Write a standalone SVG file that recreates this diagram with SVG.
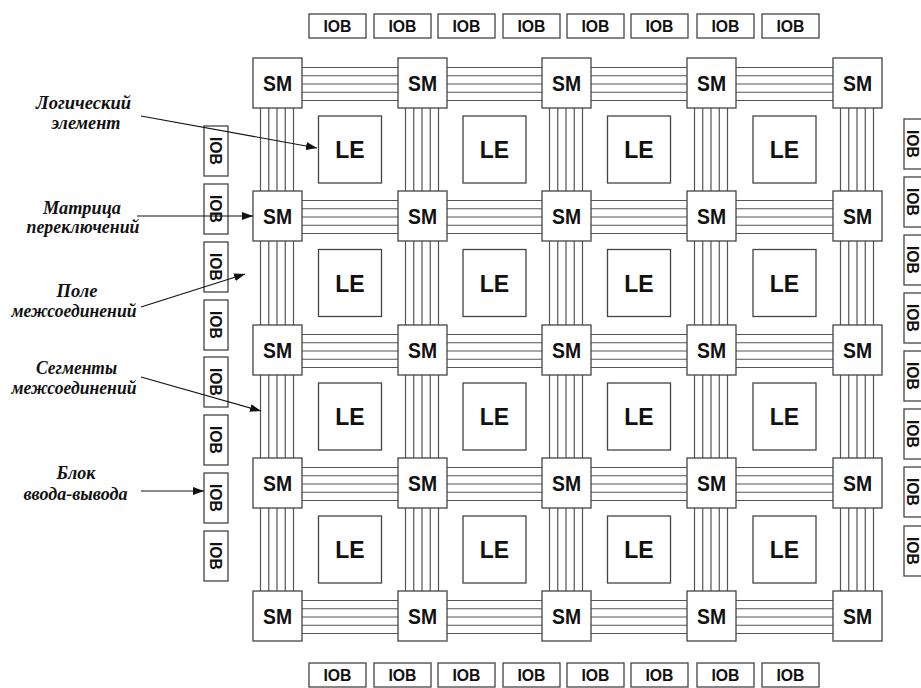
<svg xmlns="http://www.w3.org/2000/svg" width="921" height="688" viewBox="0 0 921 688">
<defs>
<style>
.bx{fill:#fff;stroke:#444;stroke-width:1.3}
.w{stroke:#555;stroke-width:1.2;fill:none}
.sm{font-family:"Liberation Sans",Arial,sans-serif;font-weight:bold;font-size:22px;text-anchor:middle;fill:#111}
.le{font-family:"Liberation Sans",Arial,sans-serif;font-weight:bold;font-size:23px;text-anchor:middle;fill:#111}
.io{font-family:"Liberation Sans",Arial,sans-serif;font-weight:bold;font-size:16px;text-anchor:middle;fill:#111}
.lb{font-family:"Liberation Serif","Times New Roman",serif;font-weight:bold;font-style:italic;font-size:19px;text-anchor:middle;fill:#111}
.ar{stroke:#111;stroke-width:1.1;fill:none;marker-end:url(#ah)}
</style>
<marker id="ah" markerUnits="userSpaceOnUse" markerWidth="11" markerHeight="8" refX="11" refY="4" orient="auto">
<path d="M0,0 L11,4 L0,8 z" fill="#111"/>
</marker>
</defs>
<rect width="921" height="688" fill="#fff"/>

<g id="connectors">
<path class="w" d="M302,67.5H833M302,75.75H833M302,84H833M302,92.25H833M302,100.5H833
M302,200.5H833M302,208.75H833M302,217H833M302,225.25H833M302,233.5H833
M302,334.5H833M302,342.75H833M302,351H833M302,359.25H833M302,367.5H833
M302,467.5H833M302,475.75H833M302,484H833M302,492.25H833M302,500.5H833
M302,600.5H833M302,608.75H833M302,617H833M302,625.25H833M302,633.5H833"/>
<path class="w" d="M260.5,108V591M268.75,108V591M277,108V591M285.25,108V591M293.5,108V591
M405.5,108V591M413.75,108V591M422,108V591M430.25,108V591M438.5,108V591
M549.5,108V591M557.75,108V591M566,108V591M574.25,108V591M582.5,108V591
M694.5,108V591M702.75,108V591M711,108V591M719.25,108V591M727.5,108V591
M840.5,108V591M848.75,108V591M857,108V591M865.25,108V591M873.5,108V591"/>
</g>

<g id="sm-nodes">
<g id="sm-1-1"><rect class="bx" x="253" y="58" width="49" height="50"/><text class="sm" x="277.5" y="91" textLength="29" lengthAdjust="spacingAndGlyphs">SM</text></g>
<g id="sm-1-2"><rect class="bx" x="398" y="58" width="49" height="50"/><text class="sm" x="422.5" y="91" textLength="29" lengthAdjust="spacingAndGlyphs">SM</text></g>
<g id="sm-1-3"><rect class="bx" x="542" y="58" width="49" height="50"/><text class="sm" x="566.5" y="91" textLength="29" lengthAdjust="spacingAndGlyphs">SM</text></g>
<g id="sm-1-4"><rect class="bx" x="687" y="58" width="49" height="50"/><text class="sm" x="711.5" y="91" textLength="29" lengthAdjust="spacingAndGlyphs">SM</text></g>
<g id="sm-1-5"><rect class="bx" x="833" y="58" width="49" height="50"/><text class="sm" x="857.5" y="91" textLength="29" lengthAdjust="spacingAndGlyphs">SM</text></g>

<g id="sm-2-1"><rect class="bx" x="253" y="191" width="49" height="50"/><text class="sm" x="277.5" y="224" textLength="29" lengthAdjust="spacingAndGlyphs">SM</text></g>
<g id="sm-2-2"><rect class="bx" x="398" y="191" width="49" height="50"/><text class="sm" x="422.5" y="224" textLength="29" lengthAdjust="spacingAndGlyphs">SM</text></g>
<g id="sm-2-3"><rect class="bx" x="542" y="191" width="49" height="50"/><text class="sm" x="566.5" y="224" textLength="29" lengthAdjust="spacingAndGlyphs">SM</text></g>
<g id="sm-2-4"><rect class="bx" x="687" y="191" width="49" height="50"/><text class="sm" x="711.5" y="224" textLength="29" lengthAdjust="spacingAndGlyphs">SM</text></g>
<g id="sm-2-5"><rect class="bx" x="833" y="191" width="49" height="50"/><text class="sm" x="857.5" y="224" textLength="29" lengthAdjust="spacingAndGlyphs">SM</text></g>

<g id="sm-3-1"><rect class="bx" x="253" y="325" width="49" height="50"/><text class="sm" x="277.5" y="358" textLength="29" lengthAdjust="spacingAndGlyphs">SM</text></g>
<g id="sm-3-2"><rect class="bx" x="398" y="325" width="49" height="50"/><text class="sm" x="422.5" y="358" textLength="29" lengthAdjust="spacingAndGlyphs">SM</text></g>
<g id="sm-3-3"><rect class="bx" x="542" y="325" width="49" height="50"/><text class="sm" x="566.5" y="358" textLength="29" lengthAdjust="spacingAndGlyphs">SM</text></g>
<g id="sm-3-4"><rect class="bx" x="687" y="325" width="49" height="50"/><text class="sm" x="711.5" y="358" textLength="29" lengthAdjust="spacingAndGlyphs">SM</text></g>
<g id="sm-3-5"><rect class="bx" x="833" y="325" width="49" height="50"/><text class="sm" x="857.5" y="358" textLength="29" lengthAdjust="spacingAndGlyphs">SM</text></g>

<g id="sm-4-1"><rect class="bx" x="253" y="458" width="49" height="50"/><text class="sm" x="277.5" y="491" textLength="29" lengthAdjust="spacingAndGlyphs">SM</text></g>
<g id="sm-4-2"><rect class="bx" x="398" y="458" width="49" height="50"/><text class="sm" x="422.5" y="491" textLength="29" lengthAdjust="spacingAndGlyphs">SM</text></g>
<g id="sm-4-3"><rect class="bx" x="542" y="458" width="49" height="50"/><text class="sm" x="566.5" y="491" textLength="29" lengthAdjust="spacingAndGlyphs">SM</text></g>
<g id="sm-4-4"><rect class="bx" x="687" y="458" width="49" height="50"/><text class="sm" x="711.5" y="491" textLength="29" lengthAdjust="spacingAndGlyphs">SM</text></g>
<g id="sm-4-5"><rect class="bx" x="833" y="458" width="49" height="50"/><text class="sm" x="857.5" y="491" textLength="29" lengthAdjust="spacingAndGlyphs">SM</text></g>

<g id="sm-5-1"><rect class="bx" x="253" y="591" width="49" height="50"/><text class="sm" x="277.5" y="624" textLength="29" lengthAdjust="spacingAndGlyphs">SM</text></g>
<g id="sm-5-2"><rect class="bx" x="398" y="591" width="49" height="50"/><text class="sm" x="422.5" y="624" textLength="29" lengthAdjust="spacingAndGlyphs">SM</text></g>
<g id="sm-5-3"><rect class="bx" x="542" y="591" width="49" height="50"/><text class="sm" x="566.5" y="624" textLength="29" lengthAdjust="spacingAndGlyphs">SM</text></g>
<g id="sm-5-4"><rect class="bx" x="687" y="591" width="49" height="50"/><text class="sm" x="711.5" y="624" textLength="29" lengthAdjust="spacingAndGlyphs">SM</text></g>
<g id="sm-5-5"><rect class="bx" x="833" y="591" width="49" height="50"/><text class="sm" x="857.5" y="624" textLength="29" lengthAdjust="spacingAndGlyphs">SM</text></g>
</g>

<g id="le-nodes">
<g id="le-1-1"><rect class="bx" x="318.5" y="116" width="63" height="67"/><text class="le" x="350" y="158">LE</text></g>
<g id="le-1-2"><rect class="bx" x="463" y="116" width="63" height="67"/><text class="le" x="494.5" y="158">LE</text></g>
<g id="le-1-3"><rect class="bx" x="607.5" y="116" width="63" height="67"/><text class="le" x="639" y="158">LE</text></g>
<g id="le-1-4"><rect class="bx" x="753" y="116" width="63" height="67"/><text class="le" x="784.5" y="158">LE</text></g>

<g id="le-2-1"><rect class="bx" x="318.5" y="249.5" width="63" height="67"/><text class="le" x="350" y="291.5">LE</text></g>
<g id="le-2-2"><rect class="bx" x="463" y="249.5" width="63" height="67"/><text class="le" x="494.5" y="291.5">LE</text></g>
<g id="le-2-3"><rect class="bx" x="607.5" y="249.5" width="63" height="67"/><text class="le" x="639" y="291.5">LE</text></g>
<g id="le-2-4"><rect class="bx" x="753" y="249.5" width="63" height="67"/><text class="le" x="784.5" y="291.5">LE</text></g>

<g id="le-3-1"><rect class="bx" x="318.5" y="383" width="63" height="67"/><text class="le" x="350" y="425">LE</text></g>
<g id="le-3-2"><rect class="bx" x="463" y="383" width="63" height="67"/><text class="le" x="494.5" y="425">LE</text></g>
<g id="le-3-3"><rect class="bx" x="607.5" y="383" width="63" height="67"/><text class="le" x="639" y="425">LE</text></g>
<g id="le-3-4"><rect class="bx" x="753" y="383" width="63" height="67"/><text class="le" x="784.5" y="425">LE</text></g>

<g id="le-4-1"><rect class="bx" x="318.5" y="516" width="63" height="67"/><text class="le" x="350" y="558">LE</text></g>
<g id="le-4-2"><rect class="bx" x="463" y="516" width="63" height="67"/><text class="le" x="494.5" y="558">LE</text></g>
<g id="le-4-3"><rect class="bx" x="607.5" y="516" width="63" height="67"/><text class="le" x="639" y="558">LE</text></g>
<g id="le-4-4"><rect class="bx" x="753" y="516" width="63" height="67"/><text class="le" x="784.5" y="558">LE</text></g>
</g>

<g id="iob-top">
<g id="iob-t1"><rect class="bx" x="309" y="14" width="57" height="24"/><text class="io" x="337.5" y="32" textLength="28" lengthAdjust="spacingAndGlyphs">IOB</text></g>
<g id="iob-t2"><rect class="bx" x="374" y="14" width="57" height="24"/><text class="io" x="402.5" y="32" textLength="28" lengthAdjust="spacingAndGlyphs">IOB</text></g>
<g id="iob-t3"><rect class="bx" x="438" y="14" width="57" height="24"/><text class="io" x="466.5" y="32" textLength="28" lengthAdjust="spacingAndGlyphs">IOB</text></g>
<g id="iob-t4"><rect class="bx" x="503" y="14" width="57" height="24"/><text class="io" x="531.5" y="32" textLength="28" lengthAdjust="spacingAndGlyphs">IOB</text></g>
<g id="iob-t5"><rect class="bx" x="567" y="14" width="57" height="24"/><text class="io" x="595.5" y="32" textLength="28" lengthAdjust="spacingAndGlyphs">IOB</text></g>
<g id="iob-t6"><rect class="bx" x="631" y="14" width="57" height="24"/><text class="io" x="659.5" y="32" textLength="28" lengthAdjust="spacingAndGlyphs">IOB</text></g>
<g id="iob-t7"><rect class="bx" x="697" y="14" width="57" height="24"/><text class="io" x="725.5" y="32" textLength="28" lengthAdjust="spacingAndGlyphs">IOB</text></g>
<g id="iob-t8"><rect class="bx" x="762" y="14" width="57" height="24"/><text class="io" x="790.5" y="32" textLength="28" lengthAdjust="spacingAndGlyphs">IOB</text></g>
</g>

<g id="iob-bottom">
<g id="iob-b1"><rect class="bx" x="309" y="663" width="57" height="24"/><text class="io" x="337.5" y="681" textLength="28" lengthAdjust="spacingAndGlyphs">IOB</text></g>
<g id="iob-b2"><rect class="bx" x="374" y="663" width="57" height="24"/><text class="io" x="402.5" y="681" textLength="28" lengthAdjust="spacingAndGlyphs">IOB</text></g>
<g id="iob-b3"><rect class="bx" x="438" y="663" width="57" height="24"/><text class="io" x="466.5" y="681" textLength="28" lengthAdjust="spacingAndGlyphs">IOB</text></g>
<g id="iob-b4"><rect class="bx" x="503" y="663" width="57" height="24"/><text class="io" x="531.5" y="681" textLength="28" lengthAdjust="spacingAndGlyphs">IOB</text></g>
<g id="iob-b5"><rect class="bx" x="567" y="663" width="57" height="24"/><text class="io" x="595.5" y="681" textLength="28" lengthAdjust="spacingAndGlyphs">IOB</text></g>
<g id="iob-b6"><rect class="bx" x="631" y="663" width="57" height="24"/><text class="io" x="659.5" y="681" textLength="28" lengthAdjust="spacingAndGlyphs">IOB</text></g>
<g id="iob-b7"><rect class="bx" x="697" y="663" width="57" height="24"/><text class="io" x="725.5" y="681" textLength="28" lengthAdjust="spacingAndGlyphs">IOB</text></g>
<g id="iob-b8"><rect class="bx" x="762" y="663" width="57" height="24"/><text class="io" x="790.5" y="681" textLength="28" lengthAdjust="spacingAndGlyphs">IOB</text></g>
</g>

<g id="iob-left">
<g id="iob-l1"><rect class="bx" x="204" y="126" width="24" height="50"/><text class="io" transform="translate(216,151) rotate(90)" x="0" y="6" textLength="28" lengthAdjust="spacingAndGlyphs">IOB</text></g>
<g id="iob-l2"><rect class="bx" x="204" y="184" width="24" height="50"/><text class="io" transform="translate(216,209) rotate(90)" x="0" y="6" textLength="28" lengthAdjust="spacingAndGlyphs">IOB</text></g>
<g id="iob-l3"><rect class="bx" x="204" y="242" width="24" height="50"/><text class="io" transform="translate(216,267) rotate(90)" x="0" y="6" textLength="28" lengthAdjust="spacingAndGlyphs">IOB</text></g>
<g id="iob-l4"><rect class="bx" x="204" y="300" width="24" height="50"/><text class="io" transform="translate(216,325) rotate(90)" x="0" y="6" textLength="28" lengthAdjust="spacingAndGlyphs">IOB</text></g>
<g id="iob-l5"><rect class="bx" x="204" y="357" width="24" height="50"/><text class="io" transform="translate(216,382) rotate(90)" x="0" y="6" textLength="28" lengthAdjust="spacingAndGlyphs">IOB</text></g>
<g id="iob-l6"><rect class="bx" x="204" y="415" width="24" height="50"/><text class="io" transform="translate(216,440) rotate(90)" x="0" y="6" textLength="28" lengthAdjust="spacingAndGlyphs">IOB</text></g>
<g id="iob-l7"><rect class="bx" x="204" y="473" width="24" height="50"/><text class="io" transform="translate(216,498) rotate(90)" x="0" y="6" textLength="28" lengthAdjust="spacingAndGlyphs">IOB</text></g>
<g id="iob-l8"><rect class="bx" x="204" y="531" width="24" height="50"/><text class="io" transform="translate(216,556) rotate(90)" x="0" y="6" textLength="28" lengthAdjust="spacingAndGlyphs">IOB</text></g>
</g>

<g id="iob-right">
<g id="iob-r1"><rect class="bx" x="904" y="119" width="24" height="50"/><text class="io" transform="translate(913,144) rotate(90)" x="0" y="6" textLength="28" lengthAdjust="spacingAndGlyphs">IOB</text></g>
<g id="iob-r2"><rect class="bx" x="904" y="177" width="24" height="50"/><text class="io" transform="translate(913,202) rotate(90)" x="0" y="6" textLength="28" lengthAdjust="spacingAndGlyphs">IOB</text></g>
<g id="iob-r3"><rect class="bx" x="904" y="235" width="24" height="50"/><text class="io" transform="translate(913,260) rotate(90)" x="0" y="6" textLength="28" lengthAdjust="spacingAndGlyphs">IOB</text></g>
<g id="iob-r4"><rect class="bx" x="904" y="293" width="24" height="50"/><text class="io" transform="translate(913,318) rotate(90)" x="0" y="6" textLength="28" lengthAdjust="spacingAndGlyphs">IOB</text></g>
<g id="iob-r5"><rect class="bx" x="904" y="351" width="24" height="50"/><text class="io" transform="translate(913,376) rotate(90)" x="0" y="6" textLength="28" lengthAdjust="spacingAndGlyphs">IOB</text></g>
<g id="iob-r6"><rect class="bx" x="904" y="409" width="24" height="50"/><text class="io" transform="translate(913,434) rotate(90)" x="0" y="6" textLength="28" lengthAdjust="spacingAndGlyphs">IOB</text></g>
<g id="iob-r7"><rect class="bx" x="904" y="467" width="24" height="50"/><text class="io" transform="translate(913,492) rotate(90)" x="0" y="6" textLength="28" lengthAdjust="spacingAndGlyphs">IOB</text></g>
<g id="iob-r8"><rect class="bx" x="904" y="526" width="24" height="50"/><text class="io" transform="translate(913,551) rotate(90)" x="0" y="6" textLength="28" lengthAdjust="spacingAndGlyphs">IOB</text></g>
</g>

<g id="labels">
<g id="lbl-le"><text class="lb" x="83.5" y="108.5" textLength="95" lengthAdjust="spacingAndGlyphs">Логический</text><text class="lb" x="86" y="128.5" textLength="69" lengthAdjust="spacingAndGlyphs">элемент</text></g>
<g id="lbl-sm"><text class="lb" x="82" y="213.5" textLength="78" lengthAdjust="spacingAndGlyphs">Матрица</text><text class="lb" x="83" y="233" textLength="113" lengthAdjust="spacingAndGlyphs">переключений</text></g>
<g id="lbl-field"><text class="lb" x="77" y="297" textLength="41" lengthAdjust="spacingAndGlyphs">Поле</text><text class="lb" x="74" y="317" textLength="125" lengthAdjust="spacingAndGlyphs">межсоединений</text></g>
<g id="lbl-seg"><text class="lb" x="76.5" y="373.5" textLength="81" lengthAdjust="spacingAndGlyphs">Сегменты</text><text class="lb" x="74" y="394" textLength="125" lengthAdjust="spacingAndGlyphs">межсоединений</text></g>
<g id="lbl-iob"><text class="lb" x="76" y="479" textLength="39" lengthAdjust="spacingAndGlyphs">Блок</text><text class="lb" x="75.5" y="499.5" textLength="104" lengthAdjust="spacingAndGlyphs">ввода-вывода</text></g>
</g>

<g id="label-arrows">
<path class="ar" d="M141,116 L317,148"/>
<path class="ar" d="M137,216 L253,216"/>
<path class="ar" d="M141,307 L245,274"/>
<path class="ar" d="M141,377 L261,411"/>
<path class="ar" d="M141,491 L204,491"/>
</g>
</svg>
